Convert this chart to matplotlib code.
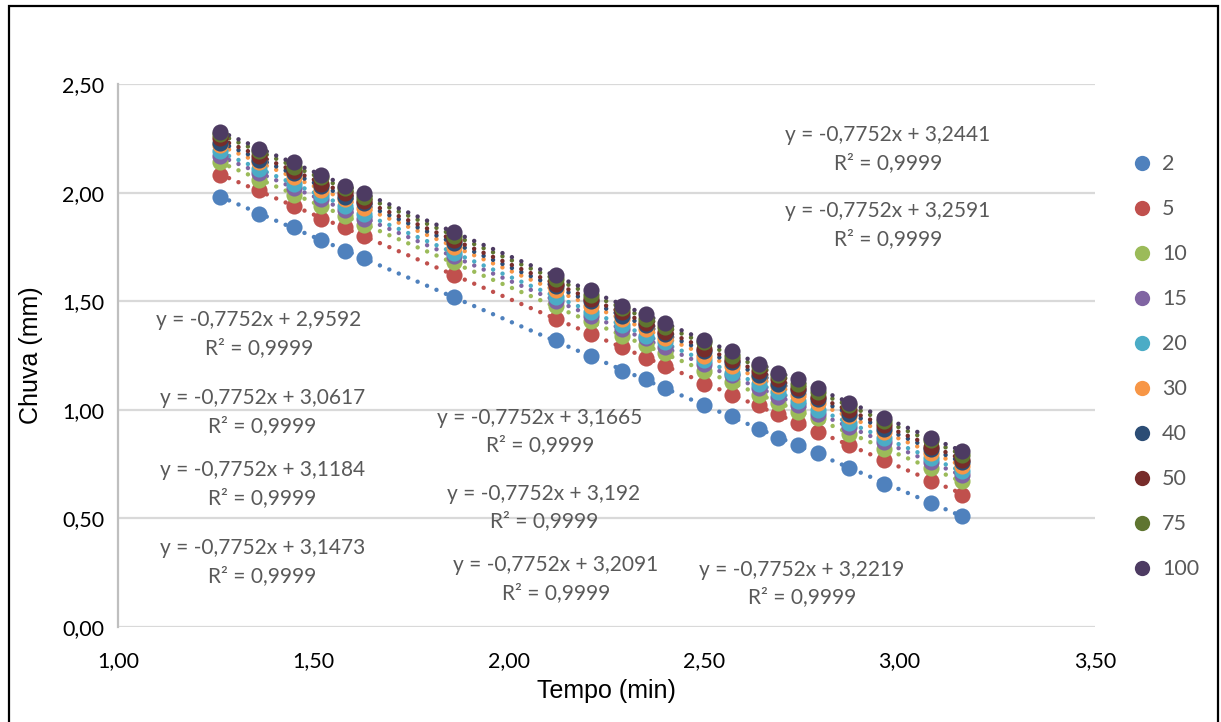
import numpy as np
import matplotlib
matplotlib.use("Agg")
import matplotlib.pyplot as plt
from matplotlib.lines import Line2D
from matplotlib.patches import Rectangle

# log tempo (x) - same for every return period
tempo = [1.26, 1.36, 1.45, 1.52, 1.58, 1.63, 1.86, 2.12, 2.21, 2.29, 2.35,
         2.40, 2.50, 2.57, 2.64, 2.69, 2.74, 2.79, 2.87, 2.96, 3.08, 3.16]

# chuva (y) per return period
chuva_2 = [1.98, 1.90, 1.84, 1.78, 1.73, 1.70, 1.52, 1.32, 1.25, 1.18, 1.14,
           1.10, 1.02, 0.97, 0.91, 0.87, 0.84, 0.80, 0.73, 0.66, 0.57, 0.51]
chuva_5 = [2.08, 2.01, 1.94, 1.88, 1.84, 1.80, 1.62, 1.42, 1.35, 1.29, 1.24,
           1.20, 1.12, 1.07, 1.02, 0.98, 0.94, 0.90, 0.84, 0.77, 0.67, 0.61]
chuva_10 = [2.14, 2.06, 1.99, 1.94, 1.89, 1.85, 1.68, 1.48, 1.41, 1.34, 1.30,
            1.26, 1.18, 1.13, 1.07, 1.03, 0.99, 0.96, 0.89, 0.82, 0.73, 0.67]
chuva_15 = [2.17, 2.09, 2.02, 1.97, 1.92, 1.88, 1.71, 1.50, 1.43, 1.37, 1.33,
            1.29, 1.21, 1.16, 1.10, 1.06, 1.02, 0.98, 0.92, 0.85, 0.76, 0.70]
chuva_20 = [2.19, 2.11, 2.04, 1.99, 1.94, 1.90, 1.72, 1.52, 1.45, 1.39, 1.34,
            1.31, 1.23, 1.17, 1.12, 1.08, 1.04, 1.00, 0.94, 0.87, 0.78, 0.72]
chuva_30 = [2.22, 2.14, 2.07, 2.01, 1.97, 1.93, 1.75, 1.55, 1.48, 1.42, 1.37,
            1.33, 1.25, 1.20, 1.15, 1.11, 1.07, 1.03, 0.97, 0.90, 0.80, 0.74]
chuva_40 = [2.23, 2.15, 2.09, 2.03, 1.98, 1.95, 1.77, 1.57, 1.50, 1.43, 1.39,
            1.35, 1.27, 1.22, 1.16, 1.12, 1.09, 1.05, 0.98, 0.91, 0.82, 0.76]
chuva_50 = [2.25, 2.17, 2.10, 2.04, 2.00, 1.96, 1.78, 1.58, 1.51, 1.45, 1.40,
            1.36, 1.28, 1.23, 1.18, 1.14, 1.10, 1.06, 1.00, 0.93, 0.83, 0.77]
chuva_75 = [2.27, 2.19, 2.12, 2.07, 2.02, 1.98, 1.80, 1.60, 1.53, 1.47, 1.42,
            1.38, 1.31, 1.25, 1.20, 1.16, 1.12, 1.08, 1.02, 0.95, 0.86, 0.79]
chuva_100 = [2.28, 2.20, 2.14, 2.08, 2.03, 2.00, 1.82, 1.62, 1.55, 1.48, 1.44,
             1.40, 1.32, 1.27, 1.21, 1.17, 1.14, 1.10, 1.03, 0.96, 0.87, 0.81]

periodos = ["2", "5", "10", "15", "20", "30", "40", "50", "75", "100"]
series = [chuva_2, chuva_5, chuva_10, chuva_15, chuva_20, chuva_30,
          chuva_40, chuva_50, chuva_75, chuva_100]
cores = ["#4F81BD", "#C0504D", "#9BBB59", "#8064A2", "#4BACC6",
         "#F79646", "#2C4D75", "#772C2A", "#5F7530", "#4D3B62"]

# trendline labels as they appear on the chart
intercepts = ["2,9592", "3,0617", "3,1184", "3,1473", "3,1665",
              "3,192", "3,2091", "3,2219", "3,2441", "3,2591"]
label_pos = [(1.36, 1.35), (1.37, 0.99), (1.37, 0.66), (1.37, 0.30),
             (2.08, 0.90), (2.09, 0.55), (2.12, 0.22), (2.75, 0.20),
             (2.97, 2.20), (2.97, 1.85)]

W, H = 1221, 722
fig = plt.figure(figsize=(W / 100, H / 100), dpi=100)
ax = fig.add_axes([118 / W, 1 - 627 / H, (1095 - 118) / W, (627 - 84) / H])

x = np.array(tempo)
for nome, y, cor in zip(periodos, series, cores):
    ax.scatter(x, y, s=135, color=cor, zorder=3, linewidths=0)
    coef = np.polyfit(x, y, 1)
    xl = np.array([x.min(), x.max()])
    ax.plot(xl, np.polyval(coef, xl), color=cor, lw=3.2,
            linestyle=(0, (0.01, 2.3)), dash_capstyle="round", zorder=2)

for b, (tx, ty) in zip(intercepts, label_pos):
    ax.text(tx, ty, "y = -0,7752x + " + b + "\nR² = 0,9999", ha="center",
            va="center", fontsize=15, color="#595959", family="Lato",
            linespacing=1.5, zorder=4)

ax.set_xlim(1.0, 3.5)
ax.set_ylim(0.0, 2.5)
ax.set_xticks(np.arange(1.0, 3.51, 0.5))
ax.set_yticks(np.arange(0.0, 2.51, 0.5))
fmt = lambda v: f"{v:.2f}".replace(".", ",")
ax.set_xticklabels([fmt(v) for v in ax.get_xticks()])
ax.set_yticklabels([fmt(v) for v in ax.get_yticks()])
for lab in ax.get_xticklabels() + ax.get_yticklabels():
    lab.set_family("Lato")
    lab.set_fontsize(15.5)
ax.tick_params(axis="x", length=0, pad=17)
ax.tick_params(axis="y", length=0, pad=10)
ax.grid(axis="y", color="#D9D9D9", lw=1.6, zorder=0)
for s in ["top", "right", "bottom"]:
    ax.spines[s].set_visible(False)
ax.spines["left"].set_color("#BFBFBF")
ax.spines["left"].set_linewidth(1.6)
ax.set_axisbelow(True)

ax.set_xlabel("Tempo (min)", fontsize=18, family="Liberation Sans", labelpad=6)
ax.set_ylabel("Chuva (mm)", fontsize=18, family="Liberation Sans", labelpad=14)

handles = [Line2D([], [], marker="o", ls="none", color=c, markersize=11,
                  markeredgewidth=0) for c in cores]
leg = fig.legend(handles, periodos, loc="upper left",
                 bbox_to_anchor=(1105 / W, 1 - 135 / H), frameon=False,
                 handletextpad=0.15, labelspacing=1.16, handlelength=1.6,
                 prop={"family": "Lato", "size": 15.5})
for t in leg.get_texts():
    t.set_color("#595959")

# chart border, cut at the bottom of the picture
fig.patches.append(Rectangle((9 / W, -0.05), (1218 - 9) / W, 1.05 - 6 / H,
                             transform=fig.transFigure, fill=False,
                             edgecolor="black", lw=1.6))

fig.savefig("out.png", dpi=100)
